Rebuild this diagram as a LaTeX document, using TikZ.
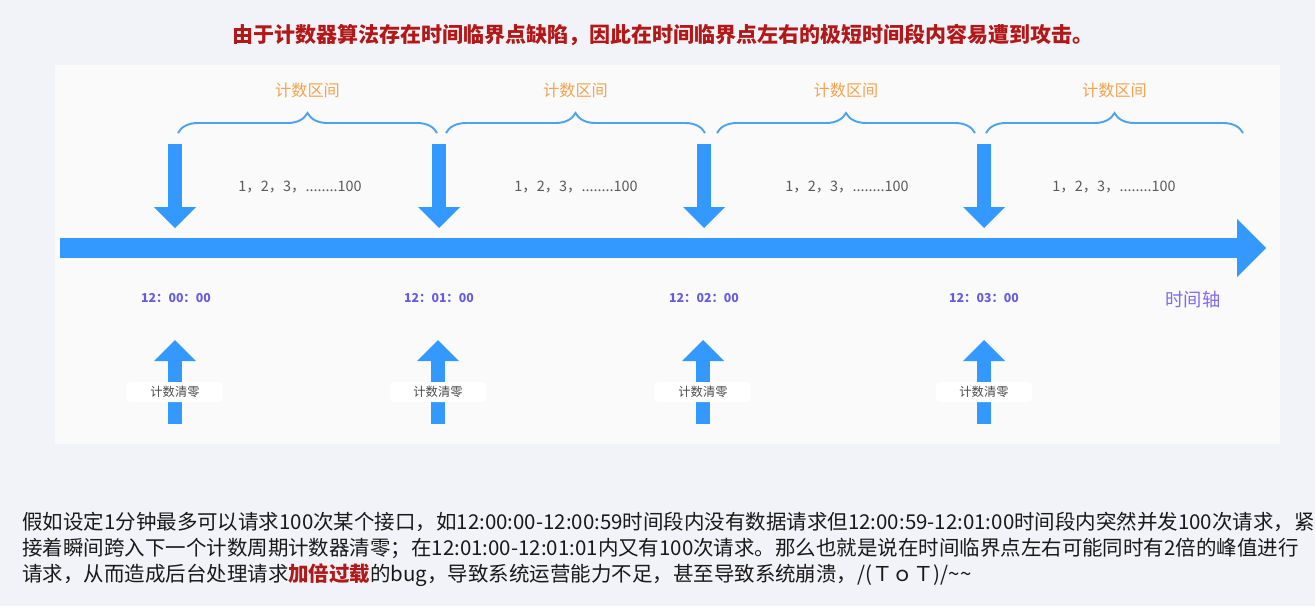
\documentclass[tikz,border=0pt]{standalone}
\usepackage{fontspec}
\setmainfont{Noto Sans CJK SC}
\usepackage{tikz}
\usetikzlibrary{arrows.meta,positioning,decorations.pathreplacing}
\usepackage{xcolor}
\definecolor{pagebg}{RGB}{242,243,248}
\definecolor{panelbg}{RGB}{250,250,251}
\definecolor{titlered}{RGB}{178,24,24}
\definecolor{flowblue}{RGB}{51,153,255}
\definecolor{braceblue}{RGB}{77,163,240}
\definecolor{spanorange}{RGB}{245,163,80}
\definecolor{countgray}{RGB}{90,90,90}
\definecolor{timepurple}{RGB}{102,92,225}
\definecolor{axispurple}{RGB}{128,108,235}
\definecolor{resetgray}{RGB}{75,75,75}
\definecolor{parablack}{RGB}{25,25,25}
\newcommand{\fsz}[1]{\fontsize{#1}{1.3\dimexpr #1pt\relax}\selectfont}

\begin{document}
\begin{tikzpicture}[inner sep=0pt,
    span/.style={decorate, decoration={brace, amplitude=0.4cm}, draw=braceblue, line width=1.1pt},
    spanlbl/.style={text=spanorange, font=\fsz{9.2}},
    count/.style={text=countgray, font=\fsz{8.2}},
    tick/.style={text=timepurple, font=\fsz{7.0}\bfseries},
    reset/.style={fill=white, rounded corners=2pt, minimum width=1.92cm, minimum height=0.4cm,
                  text=resetgray, font=\fsz{7}},
    downarr/.style={-{Triangle[length=0.42cm, width=0.84cm, line width=0pt]}, line width=0.28cm, draw=flowblue},
    axisarr/.style={-{Triangle[length=0.58cm, width=1.16cm, line width=0pt]}, line width=0.4cm, draw=flowblue},
    para/.style={anchor=base west, text=parablack, font=\fsz{11.65}}
]
    \useasboundingbox (0,0) rectangle (26.3,-12.12);
    \fill[pagebg]  (0,0) rectangle (26.3,-12.12);
    \fill[panelbg] (1.1,-1.3) rectangle (25.6,-8.88);

    \node[text=titlered, font=\fsz{11.95}\bfseries] (title) at (13.25,-0.7)
        {由于计数器算法存在时间临界点缺陷，因此在时间临界点左右的极短时间段内容易遭到攻击。};

    % counting windows
    \coordinate (w0a) at ( 3.56,-2.66); \coordinate (w0b) at ( 8.74,-2.66);
    \coordinate (w1a) at ( 8.92,-2.66); \coordinate (w1b) at (14.10,-2.66);
    \coordinate (w2a) at (14.34,-2.66); \coordinate (w2b) at (19.50,-2.66);
    \coordinate (w3a) at (19.72,-2.66); \coordinate (w3b) at (24.86,-2.66);
    \draw[span] (w0a) -- (w0b);
    \draw[span] (w1a) -- (w1b);
    \draw[span] (w2a) -- (w2b);
    \draw[span] (w3a) -- (w3b);
    \node[spanlbl] (s0) at ( 6.15,-1.8) {计数区间};
    \node[spanlbl] (s1) at (11.51,-1.8) {计数区间};
    \node[spanlbl] (s2) at (16.92,-1.8) {计数区间};
    \node[spanlbl] (s3) at (22.29,-1.8) {计数区间};
    \node[count] (c0) at ( 6.00,-3.74) {1，2，3，........100};
    \node[count] (c1) at (11.52,-3.74) {1，2，3，........100};
    \node[count] (c2) at (16.94,-3.74) {1，2，3，........100};
    \node[count] (c3) at (22.28,-3.74) {1，2，3，........100};

    % arrows onto the time axis
    \coordinate (d0) at ( 3.50,-2.88); \coordinate (e0) at ( 3.50,-4.56);
    \coordinate (d1) at ( 8.78,-2.88); \coordinate (e1) at ( 8.78,-4.56);
    \coordinate (d2) at (14.08,-2.88); \coordinate (e2) at (14.08,-4.56);
    \coordinate (d3) at (19.68,-2.88); \coordinate (e3) at (19.68,-4.56);
    \draw[downarr] (d0) -- (e0);
    \draw[downarr] (d1) -- (e1);
    \draw[downarr] (d2) -- (e2);
    \draw[downarr] (d3) -- (e3);

    \coordinate (ax0) at (1.2,-4.96); \coordinate (ax1) at (25.32,-4.96);
    \draw[axisarr] (ax0) -- (ax1);

    \node[tick] (t0) at ( 3.52,-5.96) {12：00：00};
    \node[tick] (t1) at ( 8.78,-5.96) {12：01：00};
    \node[tick] (t2) at (14.08,-5.96) {12：02：00};
    \node[tick] (t3) at (19.68,-5.96) {12：03：00};
    \node[text=axispurple, font=\fsz{10.4}] (axlbl) at (23.86,-6.0) {时间轴};

    % counter reset
    \coordinate (u0) at ( 3.50,-8.48); \coordinate (v0) at ( 3.50,-6.8);
    \coordinate (u1) at ( 8.76,-8.48); \coordinate (v1) at ( 8.76,-6.8);
    \coordinate (u2) at (14.06,-8.48); \coordinate (v2) at (14.06,-6.8);
    \coordinate (u3) at (19.68,-8.48); \coordinate (v3) at (19.68,-6.8);
    \draw[downarr] (u0) -- (v0);
    \draw[downarr] (u1) -- (v1);
    \draw[downarr] (u2) -- (v2);
    \draw[downarr] (u3) -- (v3);
    \node[reset] (r0) at ( 3.50,-7.84) {计数清零};
    \node[reset] (r1) at ( 8.76,-7.84) {计数清零};
    \node[reset] (r2) at (14.06,-7.84) {计数清零};
    \node[reset] (r3) at (19.68,-7.84) {计数清零};

    \node[para] (p1) at (0.44,-10.58) {假如设定1分钟最多可以请求100次某个接口，如12:00:00-12:00:59时间段内没有数据请求但12:00:59-12:01:00时间段内突然并发100次请求，紧};
    \node[para] (p2) at (0.44,-11.10) {接着瞬间跨入下一个计数周期计数器清零；在12:01:00-12:01:01内又有100次请求。那么也就是说在时间临界点左右可能同时有2倍的峰值进行};
    \node[para] (p3) at (0.44,-11.62) {请求，从而造成后台处理请求{\bfseries\color{titlered}加倍过载}的bug，导致系统运营能力不足，甚至导致系统崩溃，/(ＴｏＴ)/\textasciitilde\textasciitilde};
\end{tikzpicture}
\end{document}
